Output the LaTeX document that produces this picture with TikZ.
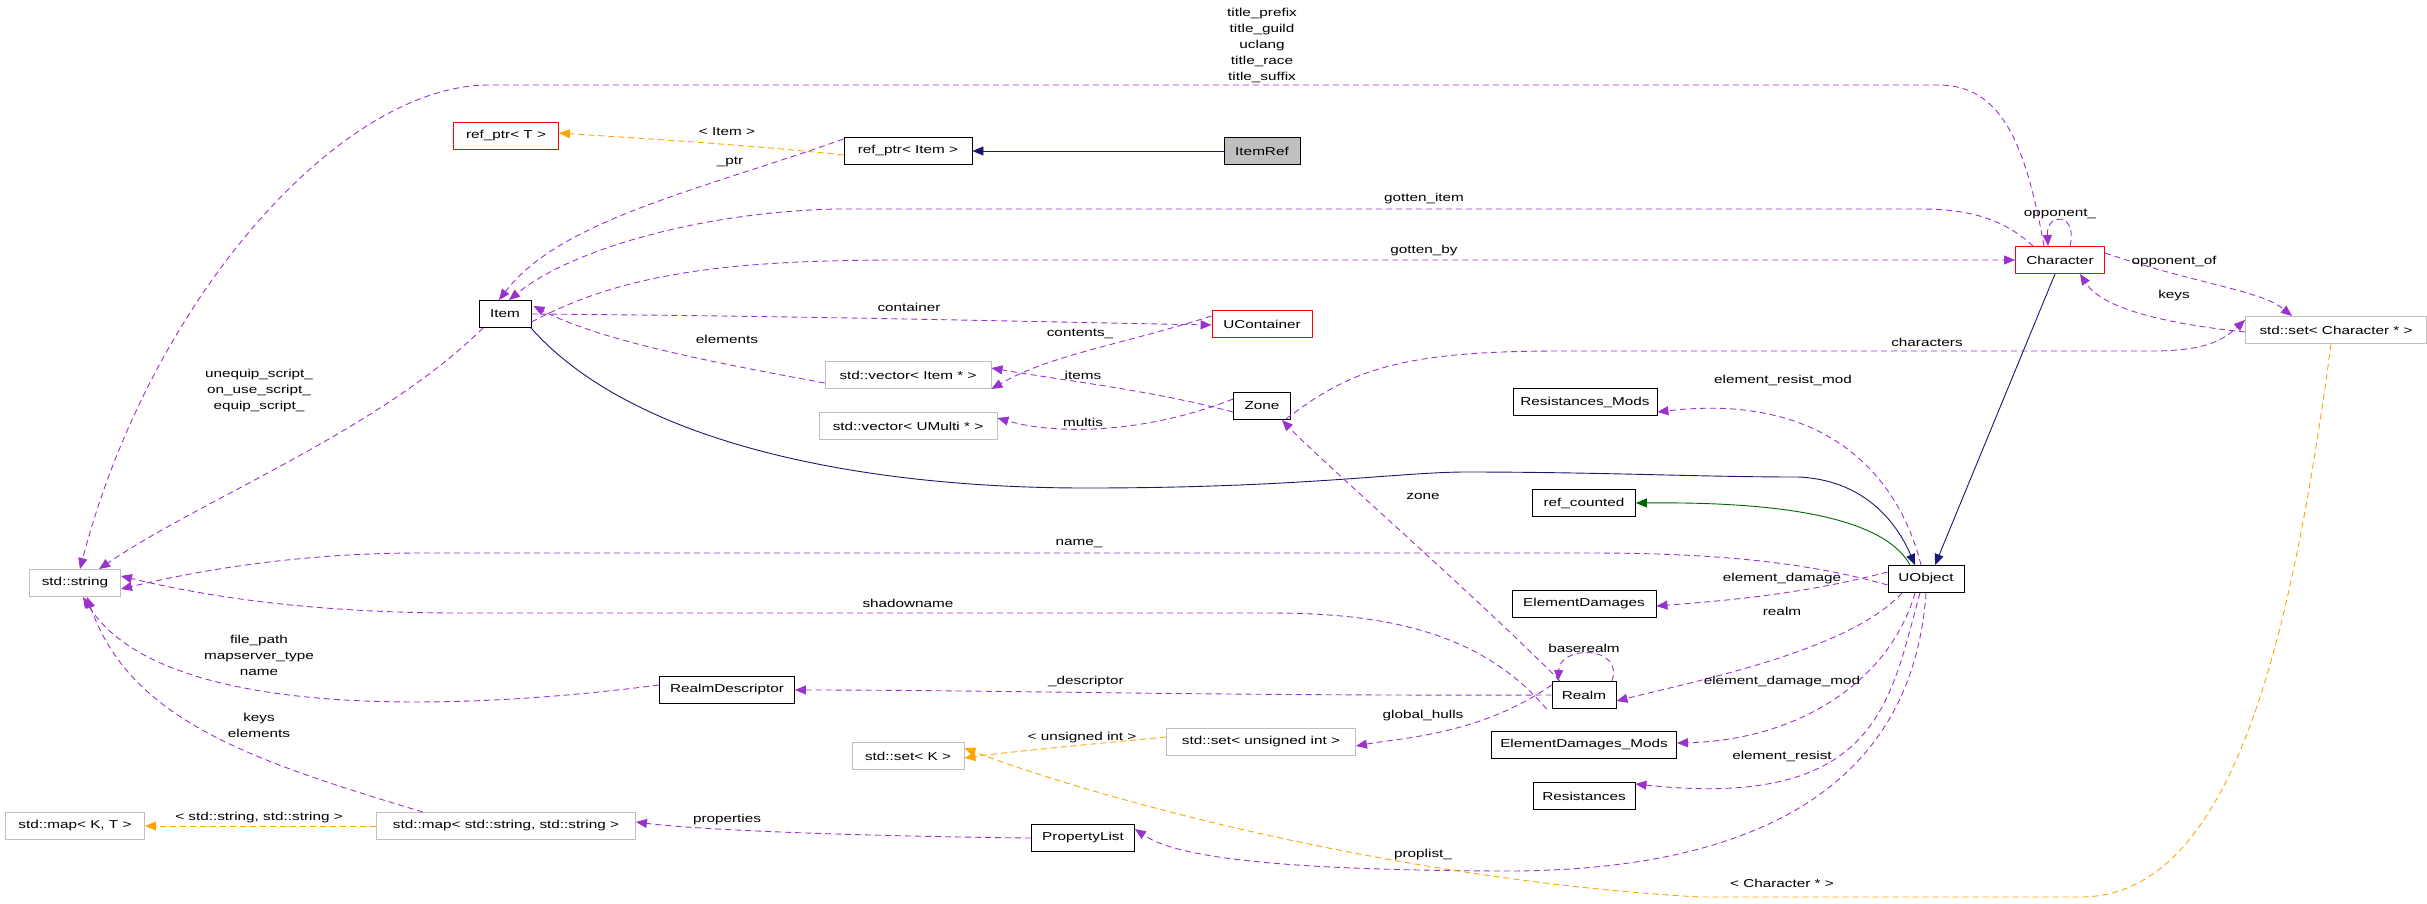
\documentclass[tikz,border=0pt]{standalone}
\usepackage{fontspec}
\setmainfont[FakeStretch=1.33]{Liberation Sans}
\usetikzlibrary{arrows.meta}
\definecolor{dpurple}{HTML}{9A32CD}
\definecolor{dorange}{HTML}{FFA500}
\definecolor{dnavy}{HTML}{191970}
\definecolor{dgreen}{HTML}{006400}
\definecolor{boxgray}{HTML}{BFBFBF}
\newcommand{\lbl}{\fontsize{11.5}{16}\selectfont}
\begin{document}
\begin{tikzpicture}[x=1pt,y=-1pt,
 box/.style={draw,line width=0.9pt,minimum height=27pt,inner sep=0pt,font=\lbl,fill=white},
 gbox/.style={box,draw=boxgray},
 rbox/.style={box,draw=red},
 kbox/.style={box,draw=black},
 tip/.style={-{Triangle[length=11pt,width=9pt]}},
 use/.style={dpurple,line width=0.9pt,dash pattern=on 6pt off 4pt,tip},
 tmpl/.style={dorange,line width=0.9pt,dash pattern=on 6pt off 4pt,tip},
 inh/.style={dnavy,line width=0.9pt,tip},
 lab/.style={font=\lbl,align=center,inner sep=0pt}]
\useasboundingbox (0,0) rectangle (2427,903);
% nodes
\node[rbox,minimum width=105pt] (refT) at (506,136) {ref\_ptr< T >};
\node[kbox,minimum width=128pt] (refItem) at (908,151) {ref\_ptr< Item >};
\node[box,draw=black,fill=boxgray,minimum width=76pt] (itemref) at (1262,151) {ItemRef};
\node[kbox,minimum width=52pt] (item) at (505,314) {Item};
\node[rbox,minimum width=100pt] (ucont) at (1262,324) {UContainer};
\node[gbox,minimum width=166pt] (vitem) at (908,375) {std::vector< Item * >};
\node[gbox,minimum width=178pt] (vmulti) at (908,426) {std::vector< UMulti * >};
\node[kbox,minimum width=57pt] (zone) at (1262,406) {Zone};
\node[rbox,minimum width=89pt] (chr) at (2060,260) {Character};
\node[gbox,minimum width=181pt] (setchr) at (2336,330) {std::set< Character * >};
\node[kbox,minimum width=144pt] (resmods) at (1585,402) {Resistances\_Mods};
\node[kbox,minimum width=103pt] (refc) at (1584,503) {ref\_counted};
\node[kbox,minimum width=76pt] (uobj) at (1926,579) {UObject};
\node[kbox,minimum width=144pt] (edmg) at (1584,604) {ElementDamages};
\node[kbox,minimum width=64pt] (realm) at (1584,695) {Realm};
\node[kbox,minimum width=185pt] (edmgm) at (1584,745) {ElementDamages\_Mods};
\node[kbox,minimum width=102pt] (res) at (1584,796) {Resistances};
\node[gbox,minimum width=189pt] (setui) at (1261,742) {std::set< unsigned int >};
\node[gbox,minimum width=112pt] (setK) at (908,756) {std::set< K >};
\node[kbox,minimum width=103pt] (plist) at (1083,838) {PropertyList};
\node[gbox,minimum width=259pt] (mapss) at (506,826) {std::map< std::string, std::string >};
\node[gbox,minimum width=139pt] (mapKT) at (75,826) {std::map< K, T >};
\node[kbox,minimum width=135pt] (rdesc) at (727,690) {RealmDescriptor};
\node[gbox,minimum width=91pt] (str) at (75,583) {std::string};
% edges
\draw[use] ([xshift=-16pt]chr.north) .. controls (2025,140) and (2000,85) .. (1938,85) -- (489,85) .. controls (340,85) and (150,300) .. ([xshift=5pt]str.north);
\node[lab] (l1) at (1262,45) {title\_prefix\\title\_guild\\uclang\\title\_race\\title\_suffix};
\draw[inh] (itemref) -- (refItem);
\draw[tmpl] ([yshift=-4pt]refItem.west) .. controls (750,145) and (650,139) .. ([yshift=3pt]refT.east);
\node[lab] (l2) at (727,132) {< Item >};
\draw[use] ([yshift=12pt]refItem.west) .. controls (700,190) and (560,220) .. ([xshift=-6pt]item.north);
\node[lab] (l3) at (730,162) {\_ptr};
\draw[use] ([xshift=-27pt]chr.north) .. controls (2000,215) and (1960,209) .. (1920,209) -- (837,209) .. controls (700,212) and (570,250) .. ([xshift=4pt]item.north);
\node[lab] (l4) at (1424,199) {gotten\_item};
\draw[use] ([yshift=-8pt]item.east) .. controls (620,275) and (720,260) .. (900,260) -- (chr.west);
\node[lab] (l5) at (1424,251) {gotten\_by};
\draw[use] (item.east) .. controls (800,316) and (1000,321) .. ([yshift=-1pt]ucont.west);
\node[lab] (l6) at (909,307) {container};
\draw[use] ([yshift=8pt]ucont.west) .. controls (1120,345) and (1050,355) .. ([yshift=-14pt]vitem.east);
\node[lab] (l7) at (1080,334) {contents\_};
\draw[use] ([yshift=-8pt]vitem.west) .. controls (700,360) and (600,340) .. ([yshift=8pt,xshift=2pt]item.east);
\node[lab] (l8) at (727,339) {elements};
\draw[use] ([yshift=-6pt]zone.west) .. controls (1150,390) and (1060,380) .. ([yshift=7pt]vitem.east);
\node[lab] (l9) at (1083,375) {items};
\draw[use] ([yshift=7pt]zone.west) .. controls (1150,432) and (1060,436) .. ([yshift=8pt]vmulti.east);
\node[lab] (l10) at (1083,422) {multis};
\draw[use] ([yshift=-13pt,xshift=-5pt]zone.east) .. controls (1350,370) and (1400,351) .. (1560,351) -- (2150,351) .. controls (2200,351) and (2220,343) .. ([yshift=10pt]setchr.west);
\node[lab] (l11) at (1927,342) {characters};
\draw[use] ([yshift=7pt]chr.east) .. controls (2200,285) and (2260,290) .. ([xshift=-44pt]setchr.north);
\node[lab] (l12) at (2174,262) {opponent\_of};
\draw[use] ([yshift=-2pt]setchr.west) .. controls (2150,322) and (2100,305) .. ([xshift=20pt]chr.south);
\node[lab] (l13) at (2174,296) {keys};
\draw[use] ([xshift=10pt]chr.north) .. controls (2078,212) and (2046,212) .. ([xshift=-12pt]chr.north);
\node[lab] (l14) at (2060,214) {opponent\_};
\draw[inh] ([xshift=-5pt]chr.south) -- ([xshift=9pt]uobj.north);
\draw[inh] ([xshift=26pt]item.south) .. controls (630,440) and (850,488) .. (1086,488) .. controls (1300,488) and (1400,472) .. (1466,472) .. controls (1600,472) and (1700,477) .. (1798,477) .. controls (1870,480) and (1900,530) .. ([xshift=-11pt]uobj.north);
\draw[dgreen,line width=0.9pt,tip] ([xshift=-16pt]uobj.north) .. controls (1880,510) and (1750,502) .. (refc.east);
\draw[use] ([xshift=-5pt]uobj.north) .. controls (1900,480) and (1830,392) .. ([yshift=-10pt]resmods.east);
\node[lab] (l15) at (1783,380) {element\_resist\_mod};
\draw[use] ([yshift=-6pt]uobj.west) .. controls (1800,560) and (1700,553) .. (1590,553) -- (420,553) .. controls (300,553) and (200,570) .. ([yshift=-6pt]str.east);
\node[lab] (l16) at (1079,544) {name\_};
\draw[use] ([yshift=7pt]uobj.west) .. controls (1800,595) and (1720,601) .. ([yshift=-2pt]edmg.east);
\node[lab] (l17) at (1782,579) {element\_damage};
\draw[use] ([xshift=-24pt]uobj.south) .. controls (1850,650) and (1700,680) .. ([yshift=-6pt]realm.east);
\node[lab] (l18) at (1782,611) {realm};
\draw[use] ([xshift=-11pt]uobj.south) .. controls (1890,680) and (1800,740) .. ([yshift=2pt]edmgm.east);
\node[lab] (l19) at (1782,682) {element\_damage\_mod};
\draw[use] ([xshift=-6pt]uobj.south) .. controls (1890,700) and (1880,810) .. ([yshift=12pt]res.east);
\node[lab] (l20) at (1782,756) {element\_resist};
\draw[use] (uobj.south) .. controls (1910,820) and (1700,872) .. (1500,871) .. controls (1300,870) and (1180,860) .. ([yshift=9pt]plist.east);
\node[lab] (l21) at (1423,855) {proplist\_};
\draw[use] ([xshift=-5pt,yshift=-14pt]realm.west) .. controls (1480,630) and (1380,613) .. (1270,613) -- (450,613) .. controls (300,612) and (200,595) .. ([yshift=7pt]str.east);
\node[lab] (l22) at (908,603) {shadowname};
\draw[use] ([xshift=-24pt]realm.north) .. controls (1480,600) and (1320,460) .. ([xshift=20pt]zone.south);
\node[lab] (l23) at (1423,496) {zone};
\draw[use] ([xshift=28pt]realm.north) .. controls (1624,645) and (1560,645) .. ([xshift=-26pt]realm.north);
\node[lab] (l24) at (1584,648) {baserealm};
\draw[use] (realm.west) .. controls (1200,696) and (1000,690) .. (rdesc.east);
\node[lab] (l25) at (1086,682) {\_descriptor};
\draw[use] ([yshift=10pt]realm.west) .. controls (1480,735) and (1400,738) .. ([yshift=-4pt]setui.east);
\node[lab] (l26) at (1423,716) {global\_hulls};
\draw[tmpl] ([yshift=5pt]setui.west) .. controls (1050,748) and (1000,753) .. ([yshift=-2pt]setK.east);
\node[lab] (l27) at (1082,738) {< unsigned int >};
\draw[tmpl] ([xshift=-5pt]setchr.south) .. controls (2290,650) and (2230,897) .. (2080,897) -- (1700,897) .. controls (1400,880) and (1100,800) .. ([yshift=8pt]setK.east);
\node[lab] (l28) at (1782,883) {< Character * >};
\draw[use] ([yshift=5pt]rdesc.west) .. controls (450,712) and (160,720) .. ([xshift=8pt]str.south);
\node[lab] (l29) at (259,655) {file\_path\\mapserver\_type\\name};
\draw[use] ([xshift=-83pt]mapss.north) .. controls (250,760) and (130,720) .. ([xshift=12pt]str.south);
\node[lab] (l30) at (259,725) {keys\\elements};
\draw[tmpl] (mapss.west) -- (mapKT.east);
\node[lab] (l31) at (259,818) {< std::string, std::string >};
\draw[use] (plist.west) .. controls (850,836) and (700,830) .. ([yshift=4pt]mapss.east);
\node[lab] (l32) at (727,820) {properties};
\draw[use] ([xshift=-22pt]item.south) .. controls (380,430) and (200,500) .. ([xshift=24pt]str.north);
\node[lab] (l33) at (259,391) {unequip\_script\_\\on\_use\_script\_\\equip\_script\_};
\end{tikzpicture}
\end{document}
